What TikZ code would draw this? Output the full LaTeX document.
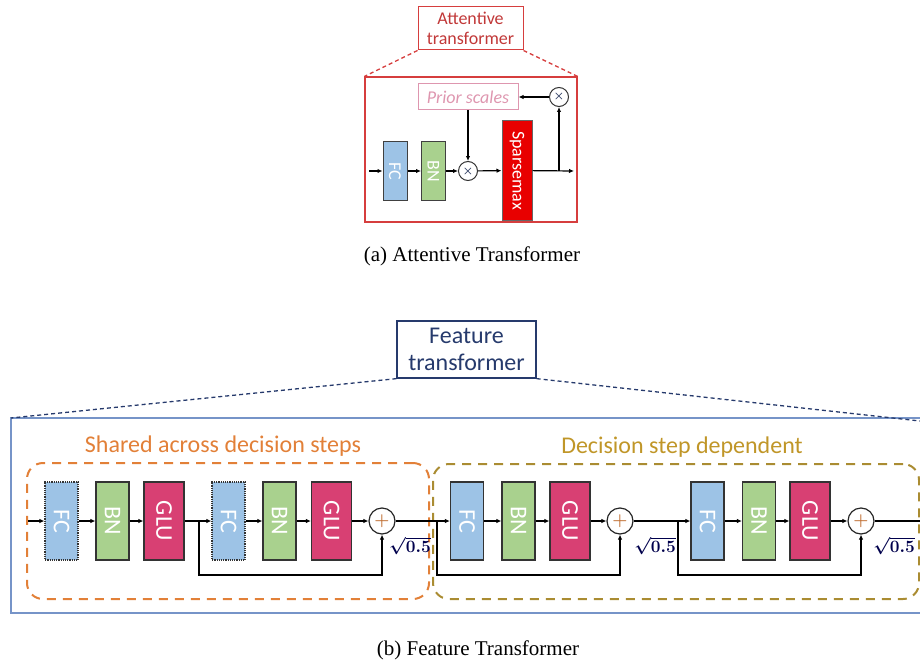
\documentclass[tikz,border=0pt]{standalone}
\usepackage{fontspec}
\setmainfont{Liberation Serif}
\newfontfamily\carl{Carlito}
\usetikzlibrary{positioning,arrows.meta}

\definecolor{fcblue}{RGB}{157,195,230}
\definecolor{bngreen}{RGB}{169,209,142}
\definecolor{glupink}{RGB}{216,64,115}
\definecolor{smred}{RGB}{232,0,0}
\definecolor{attred}{RGB}{214,62,62}
\definecolor{priorpink}{RGB}{222,150,175}
\definecolor{featnavy}{RGB}{38,58,108}
\definecolor{featblue}{RGB}{118,148,200}
\definecolor{shorange}{RGB}{226,128,56}
\definecolor{depolive}{RGB}{170,140,50}
\definecolor{deptext}{RGB}{192,150,40}

\begin{document}
\begin{tikzpicture}[x=1pt, y=-1pt,
    every node/.style={font=\carl},
    arr/.style={-{Latex[length=5pt,width=4.5pt]}, line width=1.2pt},
    lin/.style={line width=1.2pt},
    ablk/.style={draw=black!75, line width=1pt, rotate=-90, inner sep=0pt,
                 minimum width=59pt, minimum height=24pt, text=white,
                 font=\carl\fontsize{18}{18}\selectfont},
    bblk/.style={draw=black!80, line width=1.2pt, rotate=-90, inner sep=0pt,
                 minimum width=78pt, text=white,
                 font=\carl\fontsize{24}{24}\selectfont},
    fcb/.style={bblk, fill=fcblue, minimum height=33pt},
    bnb/.style={bblk, fill=bngreen, minimum height=33pt},
    glub/.style={bblk, fill=glupink, minimum height=40pt},
    mul/.style={circle, draw=black!80, line width=1pt, fill=white, inner sep=0pt,
                minimum size=19pt, text=featnavy!80!black,
                font=\boldmath\fontsize{12}{12}\selectfont},
    plus/.style={circle, draw=black!85, line width=1.2pt, fill=white, inner sep=0pt,
                 minimum size=26pt, text=shorange!85!black,
                 font=\boldmath\fontsize{18}{18}\selectfont},
    sqrtl/.style={text=black!70!blue, inner sep=0pt,
                  font=\boldmath\fontsize{19}{19}\selectfont},
    caption/.style={inner sep=0pt, anchor=base, font=\rmfamily\fontsize{21}{21}\selectfont},
    zoomln/.style={line width=1.3pt, dash pattern=on 4pt off 3pt},
    grpbox/.style={line width=2pt, dash pattern=on 9pt off 7pt, rounded corners=16pt,
                   inner sep=0pt},
]
    \useasboundingbox (0,0) rectangle (920,666);

    %% (a) attentive transformer
    \node[draw=attred, line width=1pt, text=attred!90!black, align=center,
          minimum width=105pt, minimum height=43pt,
          font=\carl\fontsize{18}{20}\selectfont] (atttitle) at (470.5,28.5)
        {Attentive\\transformer};
    \node[draw=attred, line width=1.2pt, inner sep=0pt,
          minimum width=212pt, minimum height=145pt] (attbox) at (471,149.5) {};
    \draw[zoomln, attred] (atttitle.south west) -- (attbox.north west);
    \draw[zoomln, attred] (atttitle.south east) -- (attbox.north east);

    \node[ablk, fill=fcblue] (afc) at (395,171) {FC};
    \node[ablk, fill=bngreen] (abn) at (433.5,171) {BN};
    \node[mul] (amul) at (468,171) {$\times$};
    \node[ablk, fill=smred, draw=black!60, minimum width=99pt, minimum height=30pt]
        (asm) at (517,170.5) {Sparsemax};
    \node[draw=priorpink, line width=1pt, text=priorpink, minimum width=100pt,
          minimum height=26pt, inner sep=0pt,
          font=\carl\itshape\fontsize{18}{18}\selectfont] (prior) at (468,97)
        {Prior scales};
    \node[mul] (pmul) at (559,97) {$\times$};
    \coordinate (ain) at (369,171);
    \coordinate (aout) at (574,171);
    \coordinate (abr) at (559,171);

    \draw[arr] (ain) -- (afc);
    \draw[arr] (afc) -- (abn);
    \draw[arr] (abn) -- (amul);
    \draw[arr] (amul) -- (asm);
    \draw[arr] (asm) -- (aout);
    \draw[arr] (abr) -- (pmul);
    \draw[arr] (pmul) -- (prior);
    \draw[arr] (prior) -- (amul);

    \node[caption] (capa) at (472,261) {(a) Attentive Transformer};

    %% (b) feature transformer
    \node[draw=featnavy, line width=1.3pt, text=featnavy, align=center,
          minimum width=139pt, minimum height=57pt,
          font=\carl\fontsize{24}{27}\selectfont] (feattitle) at (466.5,349.5)
        {Feature\\transformer};
    \coordinate (ftl) at (11,418);
    \coordinate (ftr) at (920,418);
    \coordinate (fbl) at (11,613);
    \coordinate (fbr) at (920,613);
    \draw[featblue, line width=1.5pt] (ftr) -- (ftl) -- (fbl) -- (fbr);
    \draw[zoomln, featnavy] (feattitle.south west) -- (ftl);
    \draw[zoomln, featnavy] (feattitle.south east) -- (920,421);

    \node[grpbox, draw=shorange, minimum width=402pt, minimum height=136pt]
        (shared) at (228,531) {};
    \node[grpbox, draw=depolive, minimum width=486pt, minimum height=135pt]
        (dep) at (676,531.5) {};
    \node[anchor=base, text=shorange, inner sep=0pt,
          font=\carl\fontsize{24}{24}\selectfont] (sharedlbl) at (223,452)
        {Shared across decision steps};
    \node[anchor=base, text=deptext, inner sep=0pt,
          font=\carl\fontsize{24}{24}\selectfont] (deplbl) at (682,453)
        {Decision step dependent};

    %% shared blocks
    \node[fcb, densely dotted] (fc1) at (61.5,521) {FC};
    \node[bnb] (bn1) at (112.5,521) {BN};
    \node[glub] (glu1) at (164,521) {GLU};
    \node[fcb, densely dotted] (fc2) at (228.5,521) {FC};
    \node[bnb] (bn2) at (279.5,521) {BN};
    \node[glub] (glu2) at (331.5,521) {GLU};
    \node[plus] (pl1) at (382,521) {$+$};
    \node[sqrtl] (sq1) at (410,546) {$\sqrt{0.5}$};

    %% step dependent blocks
    \node[fcb] (fc3) at (467,521) {FC};
    \node[bnb] (bn3) at (518.5,521) {BN};
    \node[glub] (glu3) at (570,521) {GLU};
    \node[plus] (pl2) at (620,521) {$+$};
    \node[sqrtl] (sq2) at (655,546) {$\sqrt{0.5}$};
    \node[fcb] (fc4) at (707.5,521) {FC};
    \node[bnb] (bn4) at (759,521) {BN};
    \node[glub] (glu4) at (810,521) {GLU};
    \node[plus] (pl3) at (861,521) {$+$};
    \node[sqrtl] (sq3) at (894,546) {$\sqrt{0.5}$};

    \coordinate (bin) at (28,521);
    \coordinate (bout) at (920,521);
    \coordinate (sk1) at (199,521);
    \coordinate (sk2) at (437,521);
    \coordinate (sk3) at (678,521);

    \draw[arr] (bin) -- (fc1);
    \draw[arr] (fc1) -- (bn1);
    \draw[arr] (bn1) -- (glu1);
    \draw[arr] (glu1) -- (fc2);
    \draw[arr] (fc2) -- (bn2);
    \draw[arr] (bn2) -- (glu2);
    \draw[arr] (glu2) -- (pl1);
    \draw[arr] (pl1) -- (fc3);
    \draw[arr] (fc3) -- (bn3);
    \draw[arr] (bn3) -- (glu3);
    \draw[arr] (glu3) -- (pl2);
    \draw[arr] (pl2) -- (fc4);
    \draw[arr] (fc4) -- (bn4);
    \draw[arr] (bn4) -- (glu4);
    \draw[arr] (glu4) -- (pl3);
    \draw[lin] (pl3) -- (bout);
    %% residual skips
    \draw[arr] (sk1) -- ++(0,54) -| (pl1.south);
    \draw[arr] (sk2) -- ++(0,54) -| (pl2.south);
    \draw[arr] (sk3) -- ++(0,54) -| (pl3.south);

    \node[caption] (capb) at (478,655) {(b) Feature Transformer};
\end{tikzpicture}
\end{document}
